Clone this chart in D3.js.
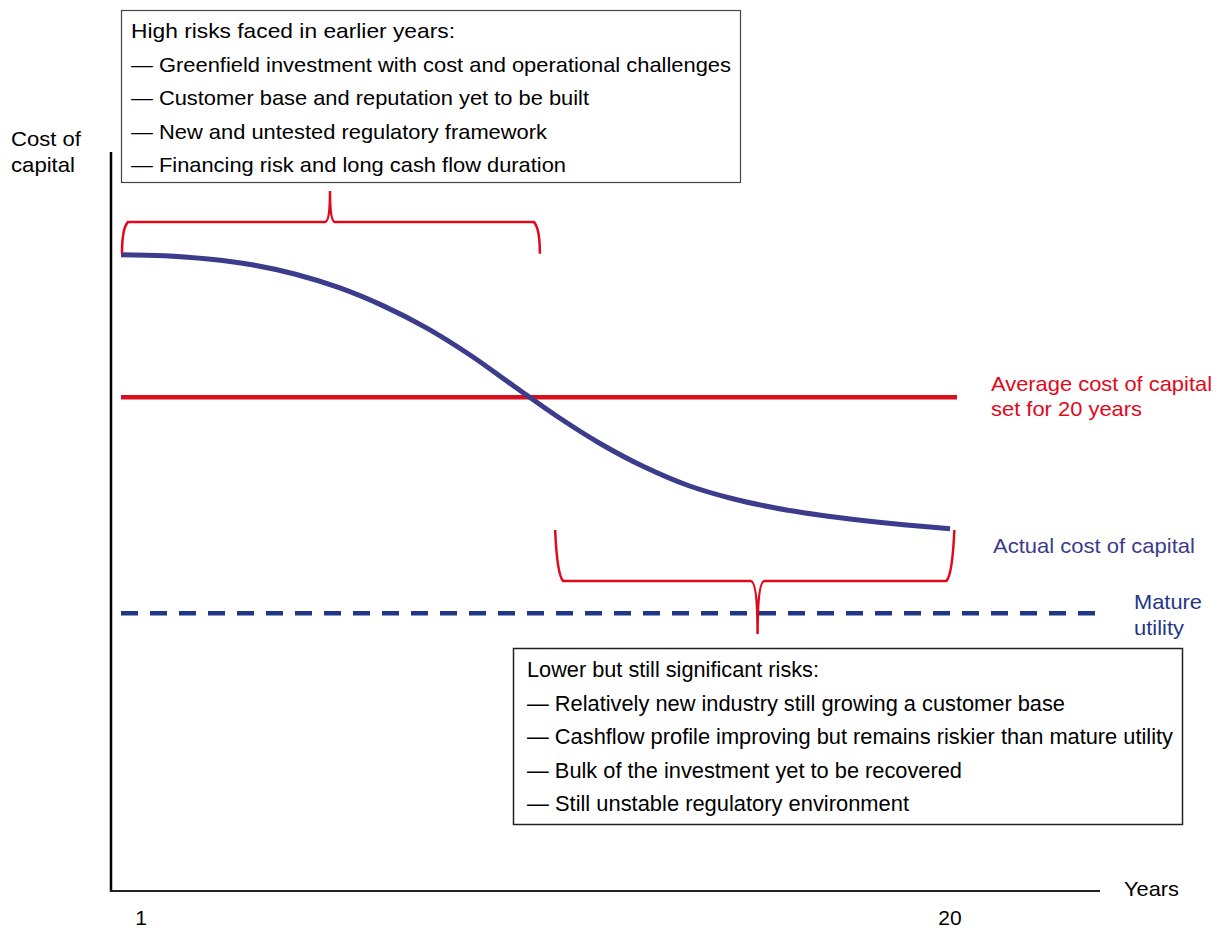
<!DOCTYPE html>
<html>
<head>
<meta charset="utf-8">
<script src="https://cdn.jsdelivr.net/npm/d3@7"></script>
<style>
  html, body { margin: 0; padding: 0; background: #fff; }
  svg { display: block; font-family: "Liberation Sans", Arial, sans-serif; }
</style>
</head>
<body>
<svg id="chart" width="1223" height="928"></svg>
<script>
// ---- data ----
const years = [1,2,3,4,5,6,7,8,9,10,11,12,13,14,15,16,17,18,19,20];
const actualCost = [86.1,85.95,85.52,84.74,83.46,81.64,79.21,76.2,72.53,68.34,64.21,60.49,57.37,54.87,53.11,51.83,50.88,50.14,49.53,49.03];
const averageCost = 66.8;
const matureUtility = 37.6;
const tickLabels = ["1", "20"];
const earlyRisks = [
  "High risks faced in earlier years:",
  "— Greenfield investment with cost and operational challenges",
  "— Customer base and reputation yet to be built",
  "— New and untested regulatory framework",
  "— Financing risk and long cash flow duration"
];
const laterRisks = [
  "Lower but still significant risks:",
  "— Relatively new industry still growing a customer base",
  "— Cashflow profile improving but remains riskier than mature utility",
  "— Bulk of the investment yet to be recovered",
  "— Still unstable regulatory environment"
];

// ---- setup ----
const svg = d3.select("#chart");
const x = d3.scaleLinear().domain([1, 20]).range([121, 950]);
const y = d3.scaleLinear().domain([0, 100]).range([891, 152]);

const RED = "#e1081c";
const LINE_RED = "#d80f1e";
const NAVY = "#3c3c8c";
const DASH_BLUE = "#1f3689";

// axes
svg.append("line").attr("x1", 111).attr("x2", 111).attr("y1", 152).attr("y2", 892)
  .attr("stroke", "#000").attr("stroke-width", 2.5);
svg.append("line").attr("x1", 110).attr("x2", 1100).attr("y1", 891).attr("y2", 891)
  .attr("stroke", "#222").attr("stroke-width", 2);

// axis labels
const axisFont = 21;
svg.append("text").attr("x", 11).attr("y", 146).attr("font-size", axisFont).attr("fill", "#000")
  .attr("textLength", 70).attr("lengthAdjust", "spacingAndGlyphs").text("Cost of");
svg.append("text").attr("x", 11).attr("y", 172).attr("font-size", axisFont).attr("fill", "#000")
  .attr("textLength", 64).attr("lengthAdjust", "spacingAndGlyphs").text("capital");
svg.append("text").attr("x", 1124).attr("y", 896).attr("font-size", axisFont).attr("fill", "#000")
  .attr("textLength", 55).attr("lengthAdjust", "spacingAndGlyphs").text("Years");
svg.append("text").attr("x", x(1) + 20).attr("y", 925).attr("text-anchor", "middle")
  .attr("font-size", axisFont).attr("fill", "#000").text(tickLabels[0]);
svg.append("text").attr("x", x(20)).attr("y", 925).attr("text-anchor", "middle")
  .attr("font-size", axisFont).attr("fill", "#000").text(tickLabels[1]);

// average cost line
svg.append("line").attr("x1", x(1)).attr("x2", x(20.16)).attr("y1", y(averageCost)).attr("y2", y(averageCost))
  .attr("stroke", LINE_RED).attr("stroke-width", 4.5);

// mature utility dashed line
svg.append("line").attr("x1", x(1)).attr("x2", 1097).attr("y1", y(matureUtility)).attr("y2", y(matureUtility))
  .attr("stroke", DASH_BLUE).attr("stroke-width", 4.5).attr("stroke-dasharray", "17,12");

// actual cost curve
const line = d3.line().x((d, i) => x(years[i])).y(d => y(d)).curve(d3.curveCatmullRom.alpha(0.5));
svg.append("path").datum(actualCost).attr("d", line)
  .attr("fill", "none").attr("stroke", NAVY).attr("stroke-width", 5).attr("stroke-linecap", "butt");

// braces
function braceUp(x0, x1, yEnd, yBar, xTip, yTip) {
  const r = 6;
  return `M${x0},${yEnd} Q${x0},${yBar+r} ${x0+r},${yBar} L${xTip-5},${yBar} Q${xTip},${yBar} ${xTip},${yTip} `
       + `Q${xTip},${yBar} ${xTip+5},${yBar} L${x1-r},${yBar} Q${x1},${yBar+r} ${x1},${yEnd}`;
}
function braceDown(x0, x1, yEnd, yBar, xTip, yTip) {
  const r = 6;
  return `M${x0},${yEnd} Q${x0+2},${yBar-r} ${x0+r+2},${yBar} L${xTip-7},${yBar} Q${xTip},${yBar} ${xTip},${yTip} `
       + `Q${xTip},${yBar} ${xTip+7},${yBar} L${x1-r-2},${yBar} Q${x1-2},${yBar-r} ${x1},${yEnd}`;
}
svg.append("path").attr("d", braceUp(x(1) + 1, x(10.6), y(actualCost[0]) - 1, 222, x(5.79), 191))
  .attr("fill", "none").attr("stroke", RED).attr("stroke-width", 2.5);
svg.append("path").attr("d", braceDown(x(10.95), x(20.1), 530, 581, x(15.59), 634))
  .attr("fill", "none").attr("stroke", RED).attr("stroke-width", 2.5);

// right labels
function label(tx, ty, txt, color, w) {
  svg.append("text").attr("x", tx).attr("y", ty).attr("font-size", 21).attr("fill", color)
    .attr("textLength", w).attr("lengthAdjust", "spacingAndGlyphs").text(txt);
}
label(991, 391, "Average cost of capital", RED, 221);
label(991, 416, "set for 20 years", RED, 151);
label(993, 553, "Actual cost of capital", NAVY, 202);
label(1134, 609, "Mature", DASH_BLUE, 68);
label(1134, 635, "utility", DASH_BLUE, 50);

// top box
svg.append("rect").attr("x", 121.5).attr("y", 10.5).attr("width", 619).attr("height", 172)
  .attr("fill", "#fff").attr("stroke", "#444").attr("stroke-width", 1.2);
const topWidths = [324, 600, 458, 416, 435];
svg.append("g").selectAll("text").data(earlyRisks).join("text")
  .attr("x", 131).attr("y", (d, i) => 38 + i * 33.5)
  .attr("font-size", 21).attr("fill", "#000")
  .attr("textLength", (d, i) => topWidths[i]).attr("lengthAdjust", "spacingAndGlyphs")
  .text(d => d);

// bottom box
svg.append("rect").attr("x", 513.5).attr("y", 648.5).attr("width", 669).attr("height", 176)
  .attr("fill", "#fff").attr("stroke", "#222").attr("stroke-width", 1.5);
const botWidths = [292, 538, 646, 435, 382];
svg.append("g").selectAll("text").data(laterRisks).join("text")
  .attr("x", 527).attr("y", (d, i) => 677 + i * 33.5)
  .attr("font-size", 22.5).attr("fill", "#000")
  .attr("textLength", (d, i) => botWidths[i]).attr("lengthAdjust", "spacingAndGlyphs")
  .text(d => d);
</script>
</body>
</html>
